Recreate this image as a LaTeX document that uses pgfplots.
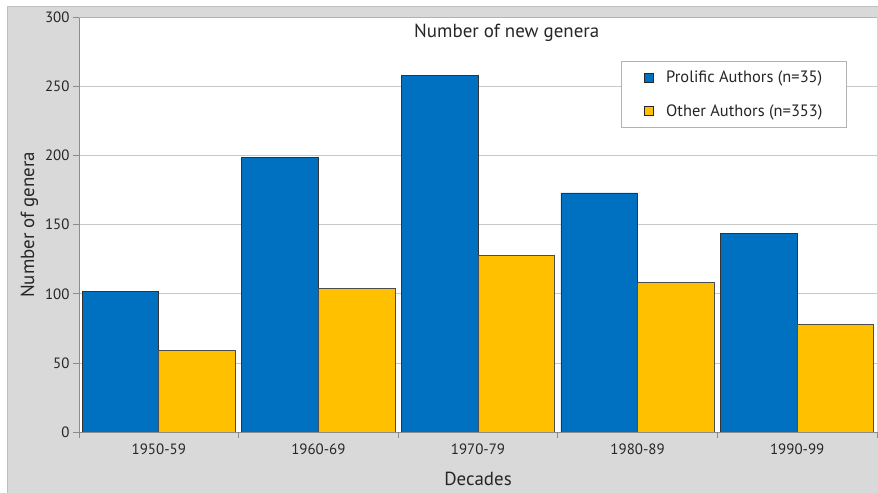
\documentclass[border=0pt]{standalone}
\usepackage{pgfplots}
\pgfplotsset{compat=1.18}
\usepackage{fontspec}
\setmainfont{PT Sans}
\definecolor{bggray}{HTML}{D9D9D9}
\definecolor{barblue}{HTML}{0070C0}
\definecolor{baryellow}{HTML}{FFC000}
\definecolor{gridgray}{HTML}{C8C8C8}
\begin{document}
\begin{tikzpicture}
\path[use as bounding box] (0,0) rectangle (878bp,493bp);
\fill[white] (0,0) rectangle (878bp,493bp);
\fill[bggray] (7.5bp,0) rectangle (878bp,487bp);
\draw[black!25, line width=0.8bp] (7.5bp,0) -- (7.5bp,487bp) -- (878bp,487bp);
\begin{axis}[
  at={(79bp,61bp)}, anchor=south west,
  scale only axis, width=798bp, height=414.5bp,
  xmin=-0.5, xmax=4.5, ymin=0, ymax=300,
  axis background/.style={fill=white},
  axis lines*=left,
  axis line style={draw=black!45, line width=0.8bp},
  tick align=outside,
  major tick length=6bp,
  tick style={draw=black!45, line width=0.8bp},
  ytick={0,50,...,300},
  ymajorgrids, grid style={draw=gridgray, line width=0.8bp},
  xtick={-0.5,0.5,...,4.5}, xticklabels={},
  extra x ticks={0,1,2,3,4},
  extra x tick labels={1950-59,1960-69,1970-79,1980-89,1990-99},
  extra x tick style={major tick length=0pt, xticklabel style={yshift=-8bp}},
  ticklabel style={font=\fontsize{15}{17}\selectfont, text=black!85},
  /pgf/number format/assume math mode=true,
  ybar=0pt, bar width=0.48,
  xlabel={Decades}, ylabel={Number of genera},
  label style={font=\fontsize{19}{21}\selectfont, text=black!85},
  xlabel style={yshift=-5bp},
  ylabel style={yshift=0bp},
  legend cell align=left,
  legend image code/.code={\draw[#1, draw=black!85, line width=0.6bp] (0bp,-4.5bp) rectangle (9bp,4.5bp);},
  legend style={at={(0.962,0.895)}, anchor=north east, draw=black!30, fill=white,
    font=\fontsize{16.5}{18}\selectfont, text=black!85,
    inner xsep=22bp, inner ysep=8bp, row sep=16bp,
    /tikz/every odd column/.append style={column sep=11bp}},
]
\addplot[fill=barblue, draw=black!80, line width=0.8bp] coordinates {(0,102) (1,199) (2,258) (3,173) (4,144)};
\addplot[fill=baryellow, draw=black!70, line width=0.8bp] coordinates {(0,59) (1,104) (2,128) (3,108) (4,78)};
\legend{Prolific Authors (n=35), Other Authors (n=353)}
\draw[black!30, line width=0.8bp] (rel axis cs:0,1) -- (rel axis cs:1,1) -- (rel axis cs:1,0);
\node[font=\fontsize{19}{21}\selectfont, text=black!85] at (rel axis cs:0.536,0.963) {Number of new genera};
\end{axis}
\end{tikzpicture}
\end{document}
